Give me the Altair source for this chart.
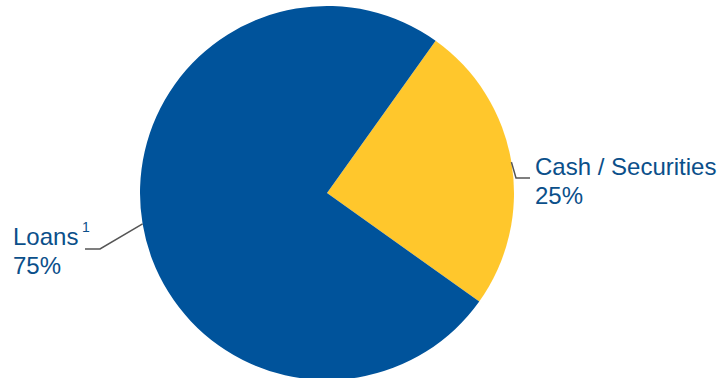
import math
import altair as alt
import pandas as pd

# ---- data ----
categories = ["Cash / Securities", "Loans"]
values = [25, 75]
pct_labels = ["25%", "75%"]
colors = ["#FFC72C", "#00539B"]
footnotes = ["", "1"]

# ---- layout constants ----
W, H = 717, 378
CX, CY, R = 327, 193, 187
START = math.radians(35.5)
TEXT_COLOR = "#0B4F8A"
FONT = "Liberation Sans"

df = pd.DataFrame({"category": categories, "value": values, "order": [0, 1]})

# leader lines derived from slice mid-angles
total = sum(values)
rows = []
acc = 0.0
label_rows = []
elbows = {"Cash / Securities": ((516, 178), (530, 178), (535, 175), (83, 233)),
          "Loans": ((100, 249), (85, 249), (13, 245), (82, 232))}
for c, v, p, f in zip(categories, values, pct_labels, footnotes):
    mid = START + 2 * math.pi * (acc + v / 2) / total
    acc += v
    ex, ey = CX + R * math.sin(mid), CY - R * math.cos(mid)
    (bx, by), (tx, ty), (lx, ly), (fx, fy) = elbows[c]
    rows += [{"cat": c, "i": 0, "px": ex, "py": ey},
             {"cat": c, "i": 1, "px": bx, "py": by},
             {"cat": c, "i": 2, "px": tx, "py": ty}]
    label_rows.append({"cat": c, "lx": lx, "ly": ly, "txt": [c, p],
                       "fx": fx, "fy": fy, "fn": f})
lines_df = pd.DataFrame(rows)
labels_df = pd.DataFrame(label_rows)

xs = alt.Scale(domain=[0, W], range=[0, W])
ys = alt.Scale(domain=[0, H], range=[0, H])

pie = alt.Chart(df).mark_arc(outerRadius=R, strokeWidth=0).encode(
    theta=alt.Theta("value:Q", stack=True,
                    scale=alt.Scale(range=[START, START + 2 * math.pi])),
    color=alt.Color("category:N", scale=alt.Scale(domain=categories, range=colors),
                    legend=None),
    order=alt.Order("order:Q"),
    x=alt.value(CX),
    y=alt.value(CY),
)

leaders = alt.Chart(lines_df).mark_line(color="#555555", strokeWidth=1.5).encode(
    x=alt.X("px:Q", scale=xs, axis=None),
    y=alt.Y("py:Q", scale=ys, axis=None),
    detail="cat:N",
    order="i:Q",
)

labels = alt.Chart(labels_df).mark_text(
    align="left", baseline="alphabetic", font=FONT, fontSize=24,
    lineHeight=29, color=TEXT_COLOR
).encode(
    x=alt.X("lx:Q", scale=xs, axis=None),
    y=alt.Y("ly:Q", scale=ys, axis=None),
    text="txt",
)

notes = alt.Chart(labels_df).mark_text(
    align="left", baseline="alphabetic", font=FONT, fontSize=14, color=TEXT_COLOR
).encode(
    x=alt.X("fx:Q", scale=xs, axis=None),
    y=alt.Y("fy:Q", scale=ys, axis=None),
    text="fn:N",
)

chart = alt.layer(pie, leaders, labels, notes).properties(
    width=W, height=H, padding=0, autosize=alt.AutoSizeParams(type="none")
).configure_view(stroke=None)

chart.save("out.html", embed_options={"renderer": "svg", "actions": False})
